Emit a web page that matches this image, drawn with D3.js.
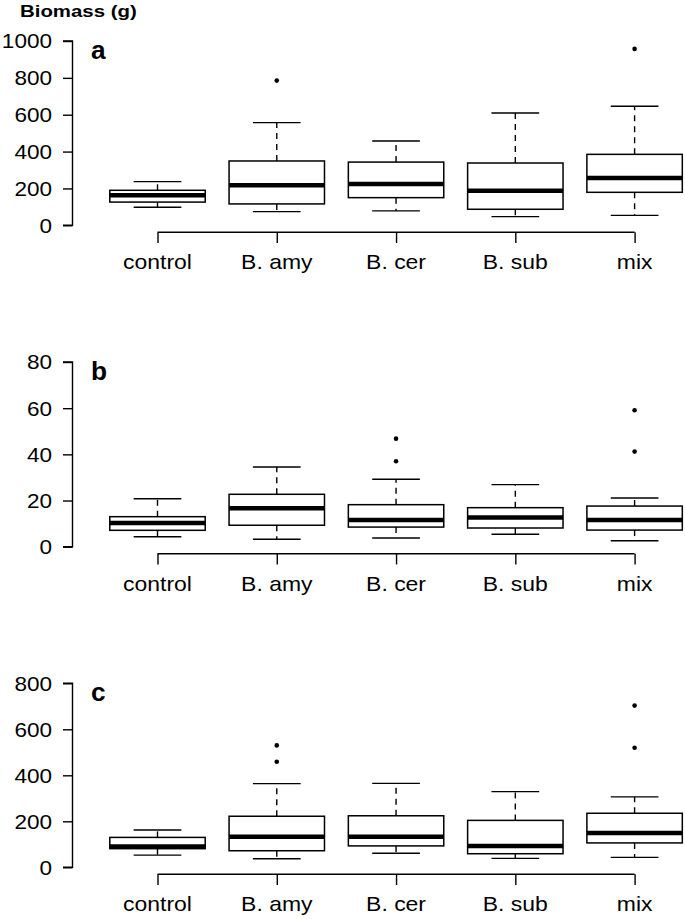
<!DOCTYPE html>
<html>
<head>
<meta charset="utf-8">
<script src="https://cdn.jsdelivr.net/npm/d3@7"></script>
<style>
  html, body { margin: 0; padding: 0; background: #fff; }
  svg { display: block; }
  text { font-family: "Liberation Sans", Arial, sans-serif; fill: #000; }
</style>
</head>
<body>
<svg id="chart" width="685" height="919"></svg>
<script>
// ---------- data ----------
const categories = ["control", "B. amy", "B. cer", "B. sub", "mix"];
const panelLabels = ["a", "b", "c"];
const yTitle = "Biomass (g)";

// five-number summaries: [lower whisker, Q1, median, Q3, upper whisker]
const statsA = [[98,126,163,190,237],[74,116,217,349,557],[78,150,224,343,457],[47,87,188,338,609],[54,179,257,385,646]];
const outliersA = [[],[785],[],[],[957]];
const ticksA = [0,200,400,600,800,1000];

const statsB = [[4.3,7.1,10.3,13.0,20.8],[3.2,9.3,16.6,22.7,34.5],[3.8,8.5,11.6,18.2,29.2],[5.4,8.1,12.7,16.9,26.9],[2.6,7.2,11.6,17.6,21.1]];
const outliersB = [[],[],[37.0,46.8],[],[41.2,59.1]];
const ticksB = [0,20,40,60,80];

const statsC = [[53,81,90,130,162],[37,72,133,222,364],[61,93,133,224,365],[39,59,93,204,329],[43,106,149,235,306]];
const outliersC = [[],[459,530],[],[],[520,703]];
const ticksC = [0,200,400,600,800];

// ---------- layout ----------
const svg = d3.select("#chart");
const SX = 1.15; // horizontal stretch of text
const x = d3.scalePoint().domain(categories).range([157.5, 634.6]);
const step = x(categories[1]) - x(categories[0]);
const boxW = step * 0.8;
const axisX = 72.5;

const panels = [
  { stats: statsA, outl: outliersA, ticks: ticksA, yr: [225.3, 41] },
  { stats: statsB, outl: outliersB, ticks: ticksB, yr: [546.7, 362] },
  { stats: statsC, outl: outliersC, ticks: ticksC, yr: [867.3, 683.3] }
];

function stretchedText(g, tx, ty, str, anchor, size, weight, sx) {
  return g.append("g").attr("transform", `translate(${tx},${ty}) scale(${sx || SX},1)`)
    .append("text").attr("text-anchor", anchor).attr("font-size", size)
    .attr("font-weight", weight || "normal").text(str);
}

// title
stretchedText(svg, 20, 16.8, yTitle, "start", 17, "bold", 1.2);

panels.forEach((p, i) => {
  const tmax = p.ticks[p.ticks.length - 1];
  const y = d3.scaleLinear().domain([0, tmax]).range(p.yr);
  const g = svg.append("g");

  // y axis via d3.axisLeft
  const ya = g.append("g").attr("transform", `translate(${axisX},0)`)
    .call(d3.axisLeft(y).tickValues(p.ticks).tickSize(9.5).tickPadding(0).tickFormat(d3.format("d")));
  ya.select(".domain").attr("d", `M-9.5,${y(0)}H0V${y(tmax)}H-9.5`).attr("stroke", "#000").attr("stroke-width", 1.4);
  ya.selectAll(".tick line").attr("stroke", "#000").attr("stroke-width", 1.4);
  ya.selectAll(".tick text").remove();
  p.ticks.forEach(t => stretchedText(g, 52, y(t) + 7.4, String(t), "end", 20.5, "normal", 1.1));

  // x axis
  const x0 = y(0) + 7;
  const xa = g.append("g").attr("transform", `translate(0,${x0})`)
    .call(d3.axisBottom(x).tickSize(10.7).tickPadding(0));
  xa.select(".domain").attr("d", `M${x(categories[0])},0H${x(categories[categories.length-1])}`)
    .attr("stroke", "#000").attr("stroke-width", 1.4);
  xa.selectAll(".tick line").attr("stroke", "#000").attr("stroke-width", 1.4);
  xa.selectAll(".tick text").remove();
  categories.forEach(c => stretchedText(g, x(c), x0 + 37, c, "middle", 20.5, "normal", 1.12));

  // panel letter
  stretchedText(g, 91, p.yr[1] + 18, panelLabels[i], "start", 25, "bold", 1.05);

  // boxes
  categories.forEach((c, j) => {
    const [lo, q1, md, q3, hi] = p.stats[j];
    const cx = x(c);
    const bg = g.append("g");
    // whiskers (dashed)
    bg.append("line").attr("x1", cx).attr("x2", cx).attr("y1", y(q3)).attr("y2", y(hi))
      .attr("stroke", "#000").attr("stroke-width", 1.4).attr("stroke-dasharray", "6,5");
    bg.append("line").attr("x1", cx).attr("x2", cx).attr("y1", y(q1)).attr("y2", y(lo))
      .attr("stroke", "#000").attr("stroke-width", 1.4).attr("stroke-dasharray", "6,5");
    // staples
    [lo, hi].forEach(v => bg.append("line")
      .attr("x1", cx - boxW / 4).attr("x2", cx + boxW / 4).attr("y1", y(v)).attr("y2", y(v))
      .attr("stroke", "#000").attr("stroke-width", 1.4));
    // box
    bg.append("rect").attr("x", cx - boxW / 2).attr("y", y(q3)).attr("width", boxW)
      .attr("height", y(q1) - y(q3)).attr("fill", "#fff").attr("stroke", "#000").attr("stroke-width", 1.5);
    // median
    bg.append("line").attr("x1", cx - boxW / 2).attr("x2", cx + boxW / 2).attr("y1", y(md)).attr("y2", y(md))
      .attr("stroke", "#000").attr("stroke-width", 4.5);
    // outliers
    p.outl[j].forEach(v => bg.append("circle").attr("cx", cx).attr("cy", y(v)).attr("r", 2.3).attr("fill", "#000"));
  });
});
</script>
</body>
</html>
